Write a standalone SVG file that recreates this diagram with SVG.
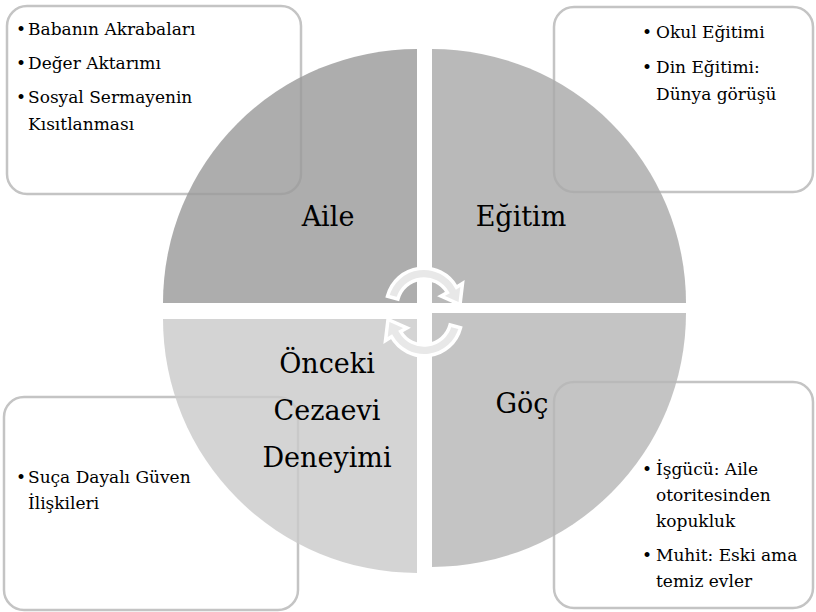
<svg xmlns="http://www.w3.org/2000/svg" width="816" height="612" viewBox="0 0 816 612">
<defs>
<style>
.box{fill:#ffffff;stroke:#c4c4c4;stroke-width:2.5}
.q{fill-opacity:0.82}
.t{font-family:"DejaVu Serif","Liberation Serif",serif;font-size:17px;fill:#000}
.lbl{font-family:"DejaVu Serif","Liberation Serif",serif;font-size:27px;fill:#000;text-anchor:middle}
.arr{fill:#e8e8e8;stroke:#ffffff;stroke-width:3.5;stroke-linejoin:miter}
</style>
</defs>
<rect width="816" height="612" fill="#ffffff"/>
<g id="box-aile"><rect class="box" x="7" y="6" width="294" height="188" rx="20"/>
<text class="t"><tspan x="16" y="35">•</tspan><tspan x="28" y="35">Babanın Akrabaları</tspan><tspan x="16" y="69">•</tspan><tspan x="28" y="69">Değer Aktarımı</tspan><tspan x="16" y="103">•</tspan><tspan x="28" y="103">Sosyal Sermayenin</tspan><tspan x="28" y="130">Kısıtlanması</tspan></text></g>
<g id="box-egitim"><rect class="box" x="554" y="7" width="259" height="185" rx="20"/>
<text class="t"><tspan x="642" y="38">•</tspan><tspan x="656" y="38">Okul Eğitimi</tspan><tspan x="642" y="73">•</tspan><tspan x="656" y="73">Din Eğitimi:</tspan><tspan x="656" y="100">Dünya görüşü</tspan></text></g>
<g id="box-onceki"><rect class="box" x="4" y="397" width="294" height="213" rx="20"/>
<text class="t"><tspan x="16" y="483">•</tspan><tspan x="28" y="483">Suça Dayalı Güven</tspan><tspan x="28" y="509">İlişkileri</tspan></text></g>
<g id="box-goc"><rect class="box" x="554" y="382" width="259" height="226" rx="20"/>
<text class="t"><tspan x="642" y="475">•</tspan><tspan x="656" y="475">İşgücü: Aile</tspan><tspan x="656" y="501">otoritesinden</tspan><tspan x="656" y="527">kopukluk</tspan><tspan x="642" y="561">•</tspan><tspan x="656" y="561">Muhit: Eski ama</tspan><tspan x="656" y="587">temiz evler</tspan></text></g>
<g id="node-aile"><path class="q" fill="#9b9b9b" d="M417,303 L163,303 A254,254 0 0 1 417,49 Z"/><text class="lbl" x="328" y="226">Aile</text></g>
<g id="node-egitim"><path class="q" fill="#aaaaaa" d="M432,303 L432,49 A254,254 0 0 1 686,303 Z"/><text class="lbl" x="521" y="226">Eğitim</text></g>
<g id="node-goc"><path class="q" fill="#b7b7b7" d="M432,313 L686,313 A254,254 0 0 1 432,567 Z"/><text class="lbl" x="522" y="413">Göç</text></g>
<g id="node-onceki"><path class="q" fill="#cacaca" d="M417,319 L417,573 A254,254 0 0 1 163,319 Z"/><text class="lbl" x="327" y="373">Önceki</text><text class="lbl" x="327" y="420">Cezaevi</text><text class="lbl" x="327" y="467">Deneyimi</text></g>
<g id="connectors">
<path id="arrow-top" class="arr" d="M387.5,296.3 A37.5,37.5 0 0 1 456.5,287.3 L462.5,283.5 L460,304.5 L441,296 L447.4,292.5 A27,27 0 0 0 397.9,299 Z"/>
<path id="arrow-bottom" class="arr" transform="rotate(180 424 312)" d="M387.5,296.3 A37.5,37.5 0 0 1 456.5,287.3 L462.5,283.5 L460,304.5 L441,296 L447.4,292.5 A27,27 0 0 0 397.9,299 Z"/>
</g>
</svg>
